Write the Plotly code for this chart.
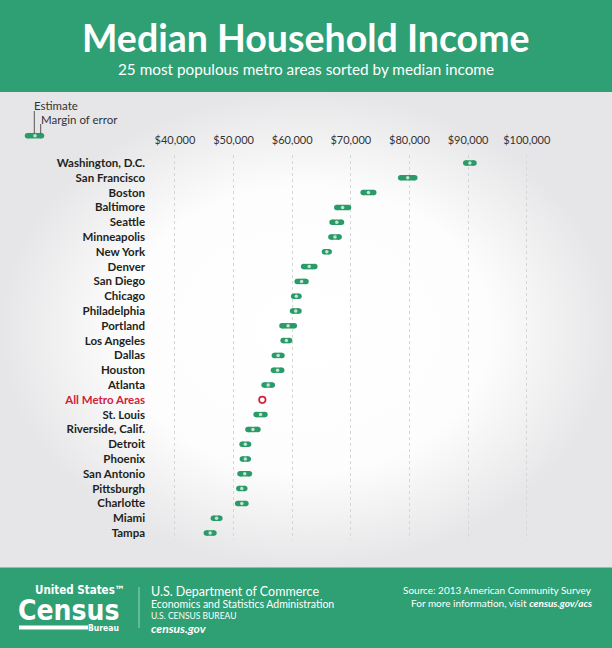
import plotly.graph_objects as go

# ---------------- data ----------------
metros = ["Washington, D.C.", "San Francisco", "Boston", "Baltimore", "Seattle",
          "Minneapolis", "New York", "Denver", "San Diego", "Chicago",
          "Philadelphia", "Portland", "Los Angeles", "Dallas", "Houston",
          "Atlanta", "All Metro Areas", "St. Louis", "Riverside, Calif.", "Detroit",
          "Phoenix", "San Antonio", "Pittsburgh", "Charlotte", "Miami", "Tampa"]
estimates = [90300, 79700, 73000, 68600, 67600,
             67300, 65900, 62900, 61600, 60700,
             60600, 59300, 59000, 57600, 57500,
             55900, 54900, 54600, 53300, 52000,
             52000, 51900, 51400, 51400, 47100, 46000]
margins = [700, 1200, 900, 1000, 800,
           700, 400, 950, 750, 450,
           550, 1050, 550, 650, 700,
           700, None, 750, 850, 550,
           500, 800, 500, 700, 550, 650]
highlight = "All Metro Areas"
tick_values = [40000, 50000, 60000, 70000, 80000, 90000, 100000]

title = "Median Household Income"
subtitle = "25 most populous metro areas sorted by median income"

GREEN = "#2f9f74"
PILL = "#2a9a69"
DOT = "#c2e4d1"
RED = "#d2213a"
FONT = "Lato"
LOGO_FONT = "Liberation Sans Narrow, DejaVu Sans Condensed"

W, H = 612, 648
X_LEFT, X_RIGHT = 169.1, 532.6        # pixel extent of data x-axis
Y_TOP, Y_BOT = 155, 540              # pixel extent of data y-axis

fig = go.Figure()

# background radial gradient (pixel-coordinate helper axes x/y)
fig.add_trace(go.Scatter(
    x=[0, W, W, 0, 0], y=[92, 92, 568, 568, 92], mode="lines", fill="toself",
    line=dict(width=0), fillgradient=dict(type="radial",
                                          colorscale=[[0, "#ffffff"], [0.6, "#fdfdfd"], [1, "#e6e6e8"]]),
    hoverinfo="skip", showlegend=False, xaxis="x", yaxis="y"))

# legend key (pixel coords)
fig.add_trace(go.Scatter(x=[27.5, 41.5], y=[135.7, 135.7], mode="lines+markers",
                         line=dict(color=PILL, width=5.5), marker=dict(size=5.5, color=PILL),
                         hoverinfo="skip", showlegend=False, xaxis="x", yaxis="y"))
fig.add_trace(go.Scatter(x=[35], y=[135.7], mode="markers",
                         marker=dict(size=3.5, color=DOT),
                         hoverinfo="skip", showlegend=False, xaxis="x", yaxis="y"))

# ---------------- data traces ----------------
seg_x, seg_y = [], []
dot_x, dot_y = [], []
for m, e, moe in zip(metros, estimates, margins):
    if m == highlight or moe is None:
        continue
    seg_x += [e - moe, e + moe, None]
    seg_y += [m, m, None]
    dot_x.append(e)
    dot_y.append(m)

fig.add_trace(go.Scatter(x=seg_x, y=seg_y, mode="lines+markers",
                         line=dict(color=PILL, width=5.5),
                         marker=dict(size=5.5, color=PILL),
                         cliponaxis=False, showlegend=False, hoverinfo="skip",
                         xaxis="x2", yaxis="y2"))
fig.add_trace(go.Scatter(x=dot_x, y=dot_y, mode="markers",
                         marker=dict(size=3.5, color=DOT),
                         cliponaxis=False, showlegend=False,
                         xaxis="x2", yaxis="y2"))
hi = metros.index(highlight)
fig.add_trace(go.Scatter(x=[estimates[hi]], y=[highlight], mode="markers",
                         marker=dict(size=6.5, color="white", line=dict(color=RED, width=1.7)),
                         cliponaxis=False, showlegend=False,
                         xaxis="x2", yaxis="y2"))

ticktext_y = [f"<span style='color:{RED}'>{m}</span>" if m == highlight else m for m in metros]

row_h = (533 - 163) / (len(metros) - 1)

shapes = [
    dict(type="rect", xref="x", yref="y", x0=0, x1=W, y0=0, y1=92,
         fillcolor=GREEN, line=dict(width=0), layer="above"),
    dict(type="rect", xref="x", yref="y", x0=0, x1=W, y0=567.5, y1=H,
         fillcolor=GREEN, line=dict(width=0), layer="above"),
    # legend leader lines
    dict(type="line", xref="x", yref="y", x0=34.3, x1=34.3, y0=111, y1=134,
         line=dict(color="#555555", width=1)),
    dict(type="line", xref="x", yref="y", x0=40.7, x1=40.7, y0=124, y1=134,
         line=dict(color="#555555", width=1)),
    # footer logo bar + divider
    dict(type="line", xref="x", yref="y", x0=19, x1=88, y0=627.5, y1=627.5,
         line=dict(color="white", width=4), layer="above"),
    dict(type="line", xref="x", yref="y", x0=139, x1=139, y0=587, y1=628,
         line=dict(color="#9fd3bb", width=1), layer="above"),
]

def ann(x, y, text, size, color="white", xanchor="left", weight="normal", family=FONT, style="normal"):
    return dict(x=x, y=y, xref="x", yref="y", text=text, showarrow=False,
                xanchor=xanchor, yanchor="middle",
                font=dict(family=family, size=size, color=color, weight=weight, style=style))

annotations = [
    ann(306, 37, title, 37.5, xanchor="center", weight="bold"),
    ann(306, 68.5, subtitle, 15.3, xanchor="center"),
    ann(32, 105, "Estimate", 11.5, color="#333333"),
    ann(39, 119, "Margin of error", 11.5, color="#333333"),
    # footer
    ann(127, 590, "United States™", 11.5, weight="bold", family=LOGO_FONT, xanchor="right"),
    ann(121, 610, "Census", 28, weight="bold", family=LOGO_FONT, xanchor="right"),
    ann(121, 628, "Bureau", 8.5, weight="bold", family=LOGO_FONT, xanchor="right"),
    ann(149, 591, "U.S. Department of Commerce", 12.5),
    ann(149, 603.5, "Economics and Statistics Administration", 10.5),
    ann(149, 616, "U.S. CENSUS BUREAU", 8.5),
    ann(149, 628, "census.gov", 12, weight="bold", style="italic"),
    ann(594, 590, "Source: 2013 American Community Survey", 10, xanchor="right"),
    ann(594, 602.5, "For more information, visit <b><i>census.gov/acs</i></b>", 10, xanchor="right"),
]

fig.update_layout(
    width=W, height=H, margin=dict(l=0, r=0, t=0, b=0, pad=0), autosize=False,
    paper_bgcolor="white", plot_bgcolor="rgba(0,0,0,0)", hovermode=False,
    showlegend=False, font=dict(family=FONT),
    xaxis=dict(domain=[0, 1], range=[0, W], visible=False, fixedrange=True, automargin=False),
    yaxis=dict(domain=[0, 1], range=[H, 0], visible=False, fixedrange=True, automargin=False),
    xaxis2=dict(domain=[X_LEFT / W, X_RIGHT / W], range=[39000, 101000], anchor="y2",
                side="top", tickvals=tick_values, tickformat="$,.0f", automargin=False,
                showgrid=True, gridcolor="#d6d6d6", griddash="3px,3px", gridwidth=1,
                zeroline=False, showline=False, ticks="", ticklabelstandoff=8,
                tickfont=dict(family=FONT, size=11, color="#333333"), fixedrange=True),
    yaxis2=dict(domain=[1 - Y_BOT / H, 1 - Y_TOP / H], anchor="x2", type="category",
                categoryarray=metros, tickvals=metros, ticktext=ticktext_y, automargin=False,
                range=[len(metros) - 1 + (Y_BOT - 533) / row_h, -(163 - Y_TOP) / row_h],
                showgrid=False, zeroline=False, showline=False, ticks="", ticklabelstandoff=23,
                tickfont=dict(family=FONT, size=11.5, color="#231f20", weight="bold"),
                fixedrange=True),
    shapes=shapes, annotations=annotations,
)

fig.write_html("out.html", config={"displayModeBar": False, "staticPlot": True},
               post_script="document.body.style.margin='0';")
